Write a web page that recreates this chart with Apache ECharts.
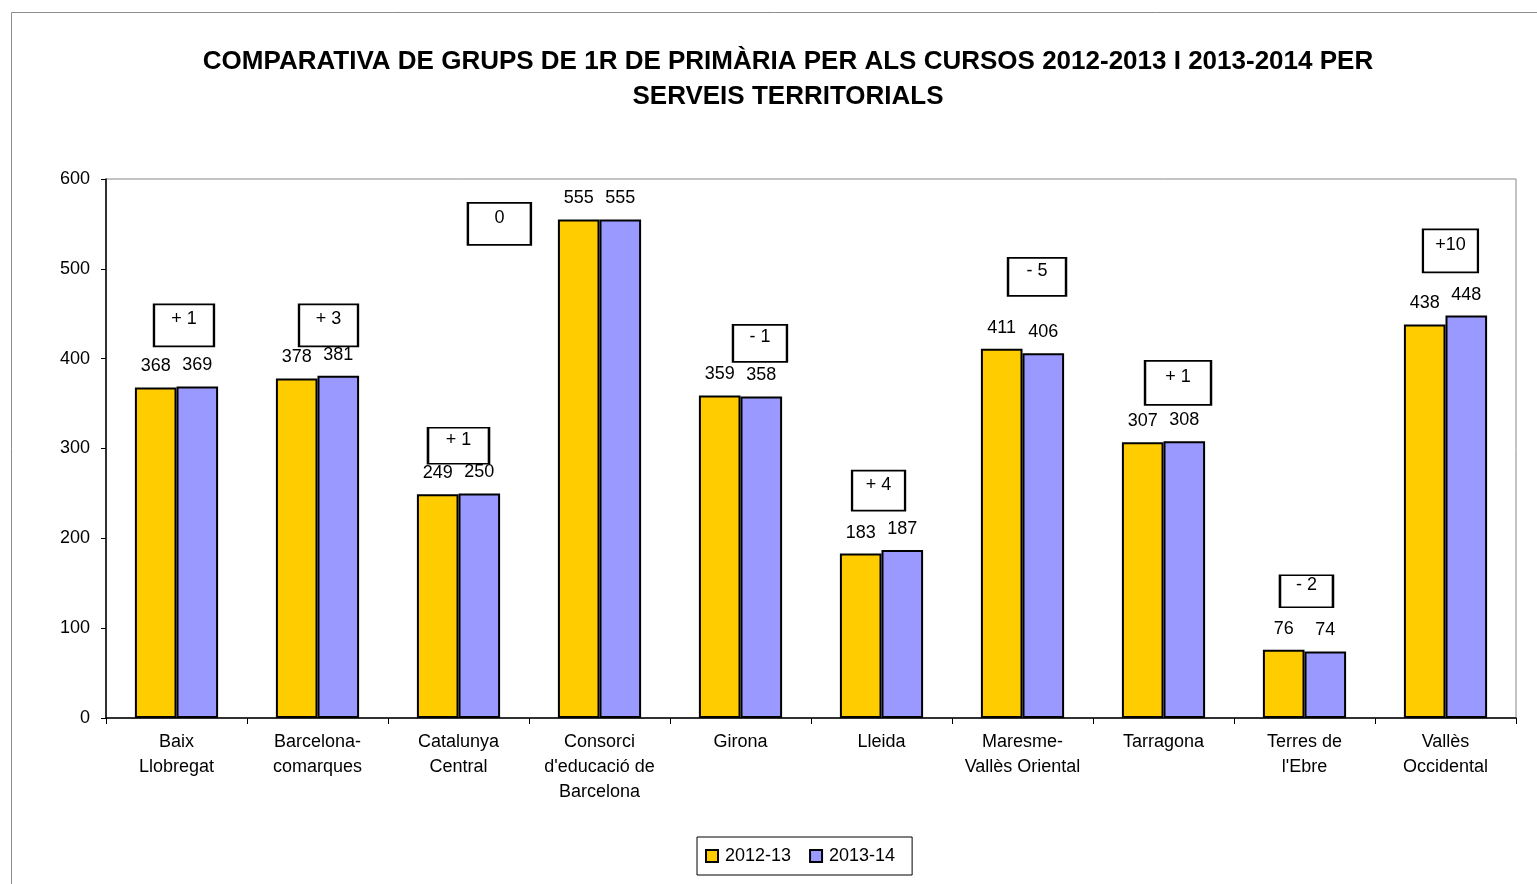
<!DOCTYPE html>
<html>
<head>
<meta charset="utf-8">
<script src="https://cdn.jsdelivr.net/npm/echarts@6/dist/echarts.min.js"></script>
<style>
  html, body { margin: 0; padding: 0; background: #fff; }
  #main { width: 1537px; height: 884px; }
</style>
</head>
<body>
<div id="main"></div>
<script>
// categories (serveis territorials)
var categories = [
    'Baix\nLlobregat',
    'Barcelona-\ncomarques',
    'Catalunya\nCentral',
    'Consorci\nd\'educació de\nBarcelona',
    'Girona',
    'Lleida',
    'Maresme-\nVallès Oriental',
    'Tarragona',
    'Terres de\nl\'Ebre',
    'Vallès\nOccidental'
];
var grups2012 = [368, 378, 249, 555, 359, 183, 411, 307, 76, 438];
var grups2013 = [369, 381, 250, 555, 358, 187, 406, 308, 74, 448];
// diferència entre cursos, com surt a les caixetes
var diferencies = ['+ 1', '+ 3', '+ 1', '0', '- 1', '+ 4', '- 5', '+ 1', '- 2', '+10'];
var yTicks = [0, 100, 200, 300, 400, 500, 600];

// on van les caixetes (unitats dels eixos) i la seva mida en px
var notePos = [
    [0.553, 437], [1.578, 437], [2.50, 303], [2.79, 550], [4.638, 417],
    [5.479, 253], [6.603, 491], [7.603, 373], [8.514, 141], [9.535, 520]
];
var noteSize = [
    [60, 42], [59, 42], [61, 36], [63, 42], [54, 37],
    [53, 40], [58, 38], [66, 44], [53, 32], [55, 43]
];

var FONT = '"Liberation Sans", Arial, sans-serif';

var noteData = diferencies.map(function (d, i) {
    return {
        value: [notePos[i][0], notePos[i][1]],
        symbolSize: noteSize[i],
        label: { formatter: d }
    };
});

var chart = echarts.init(document.getElementById('main'), null, { renderer: 'canvas' });

var option = {
    backgroundColor: '#ffffff',
    animation: false,
    textStyle: { fontFamily: FONT },
    title: {
        text: 'COMPARATIVA DE GRUPS DE 1R DE PRIMÀRIA PER ALS CURSOS 2012-2013 I 2013-2014 PER\nSERVEIS TERRITORIALS',
        left: 783,
        top: 39,
        textAlign: 'center',
        textStyle: {
            fontFamily: FONT,
            fontSize: 26,
            fontWeight: 'bold',
            color: '#000',
            lineHeight: 35
        }
    },
    graphic: [{
        type: 'rect',
        shape: { x: 11.5, y: 12.5, width: 1600, height: 1000 },
        style: { fill: 'none', stroke: '#8c8c8c', lineWidth: 1 },
        z: -10
    }],
    legend: {
        data: ['2012-13', '2013-14'],
        left: 697,
        top: 837,
        padding: [10, 17, 10, 8],
        itemWidth: 12,
        itemHeight: 12,
        itemGap: 18,
        icon: 'rect',
        borderColor: '#000',
        borderWidth: 1,
        backgroundColor: '#fff',
        textStyle: { fontFamily: FONT, fontSize: 18, color: '#000', padding: [0, 0, 0, 2] }
    },
    grid: {
        left: 106,
        top: 179,
        right: 21,
        bottom: 166,
        show: true,
        backgroundColor: '#fff',
        borderColor: '#888',
        borderWidth: 1
    },
    xAxis: [{
        type: 'category',
        data: categories,
        axisLine: { lineStyle: { color: '#000', width: 1.5 } },
        axisTick: { show: true, length: 6, lineStyle: { color: '#000' } },
        axisLabel: {
            fontFamily: FONT,
            fontSize: 18,
            color: '#000',
            lineHeight: 25,
            margin: 12,
            interval: 0
        }
    }, {
        type: 'value',
        min: 0,
        max: 10,
        show: false
    }],
    yAxis: {
        type: 'value',
        min: yTicks[0],
        max: yTicks[yTicks.length - 1],
        interval: 100,
        splitLine: { show: false },
        axisLine: { show: true, lineStyle: { color: '#000', width: 1.5 } },
        axisTick: { show: true, length: 5, lineStyle: { color: '#000' } },
        axisLabel: { fontFamily: FONT, fontSize: 18, color: '#000', margin: 16 }
    },
    series: [{
        name: '2012-13',
        type: 'bar',
        data: grups2012,
        barGap: '0%',
        barCategoryGap: '41%',
        itemStyle: { color: '#FFCC00', borderColor: '#000', borderWidth: 2 },
        label: { show: true, position: 'top', distance: 12, fontFamily: FONT, fontSize: 18, color: '#000' }
    }, {
        name: '2013-14',
        type: 'bar',
        data: grups2013,
        itemStyle: { color: '#9999FF', borderColor: '#000', borderWidth: 2 },
        label: { show: true, position: 'top', distance: 12, fontFamily: FONT, fontSize: 18, color: '#000' }
    }, {
        name: 'diferencia',
        type: 'scatter',
        xAxisIndex: 1,
        symbol: 'rect',
        data: noteData,
        z: 5,
        itemStyle: { color: '#fff', borderColor: '#000', borderWidth: 2, opacity: 1 },
        label: {
            show: true,
            position: 'inside',
            offset: [0, -6],
            fontFamily: FONT,
            fontSize: 18,
            color: '#000'
        },
        emphasis: { disabled: true }
    }]
};

chart.setOption(option);
</script>
</body>
</html>
